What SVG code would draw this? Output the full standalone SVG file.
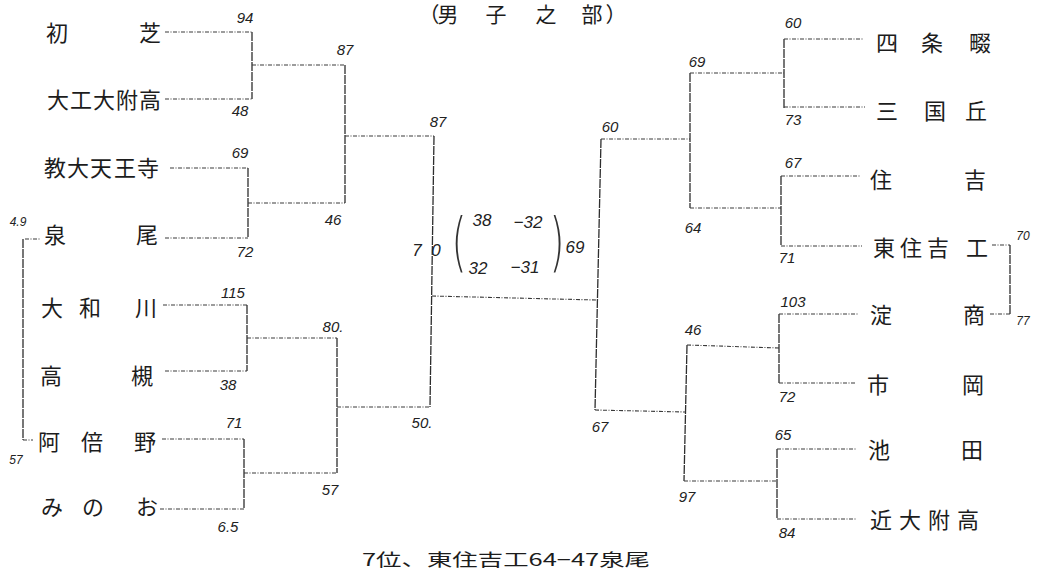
<svg xmlns="http://www.w3.org/2000/svg" width="1037" height="574" viewBox="0 0 1037 574">
<style>
.bg{fill:#ffffff}
.h{stroke:#3a3a3a;stroke-width:1.1;fill:none;stroke-dasharray:4 1.5 1 1.5}
.v{stroke:#2e2e2e;stroke-width:1.3;fill:none;stroke-dasharray:9 1}
.name{font-family:"Noto Sans CJK JP","Noto Sans CJK SC",sans-serif;font-size:22px;fill:#1c1c1c;text-anchor:middle}
.num{font-family:"Liberation Sans",Arial,sans-serif;font-style:italic;font-size:15px;fill:#222;text-anchor:middle}
.sm{font-size:12px}
.big{font-size:17px}
.par{font-family:"DejaVu Sans","Liberation Sans",sans-serif;font-weight:200;font-size:64px;fill:#333;text-anchor:middle}
.ttl{font-family:"Noto Sans CJK JP","Noto Sans CJK SC",sans-serif;font-size:21px;fill:#1c1c1c;text-anchor:middle}
.foot{font-family:"Noto Sans CJK JP","Noto Sans CJK SC",sans-serif;font-size:17px;fill:#1c1c1c}
</style>
<rect class="bg" x="0" y="0" width="1037" height="574"/>
<g id="title"><text class="ttl" x="429 448 496 546 592 616" y="22">（男子之部）</text></g>

<g id="connectors">
  <!-- left round 1 -->
  <path class="h" d="M165 32H252M165 99H252M170 168H248M165 238H248M163 305H247M165 371H247M162 439H244M160 509H244"/>
  <path class="v" d="M252 32V99M248 168V238M247 305V371M244 439V509"/>
  <!-- left round 2 -->
  <path class="h" d="M252 65H345M248 203H345M247 338H337M244 473H337"/>
  <path class="v" d="M345 65V203M337 338V473"/>
  <!-- left semifinal -->
  <path class="h" d="M345 136H434M337 407H430"/>
  <path class="v" d="M434 136L430 407"/>
  <!-- final -->
  <path class="h" d="M432 296L596 300"/>
  <!-- right semifinal -->
  <path class="v" d="M601 139L595 410"/>
  <path class="h" d="M601 139H690M595 410L685 412"/>
  <!-- right round 2 -->
  <path class="v" d="M690 73V208M687 345L684 481"/>
  <path class="h" d="M690 73H784M690 208H781M687 345L779 348M684 481H777"/>
  <!-- right round 1 -->
  <path class="v" d="M784 39V108M781 176V246M779 314V383M777 449V519"/>
  <path class="h" d="M784 39H863M784 107H865M781 176H860M781 246H862M779 314H858M779 383H855M777 449H856M777 519H856"/>
  <!-- consolation brackets -->
  <path class="h" d="M992 245H1010M990 314H1010M25 239H41M23 440H33"/>
  <path class="v" d="M1010 245V314M23 239V440"/>
</g>

<g id="scores">
  <text class="num" x="245" y="23">94</text>
  <text class="num" x="240" y="116">48</text>
  <text class="num" x="240" y="158">69</text>
  <text class="num" x="245" y="257">72</text>
  <text class="num" x="233" y="298">115</text>
  <text class="num" x="228" y="390">38</text>
  <text class="num" x="234" y="428">71</text>
  <text class="num" x="228" y="532">6.5</text>
  <text class="num" x="345" y="55">87</text>
  <text class="num" x="333" y="225">46</text>
  <text class="num" x="333" y="332">80.</text>
  <text class="num" x="330" y="495">57</text>
  <text class="num" x="438" y="127">87</text>
  <text class="num" x="422" y="428">50.</text>
  <text class="num sm" x="18" y="226">4.9</text>
  <text class="num sm" x="16" y="464">57</text>
  <text class="num big" x="417 436" y="256">70</text>
  <text class="num big" x="482" y="226">38</text>
  <text class="num big" x="528" y="228">−32</text>
  <text class="num big" x="478" y="274">32</text>
  <text class="num big" x="525" y="273">−31</text>
  <text class="num big" x="575" y="253">69</text>
  <text class="num" x="793" y="28">60</text>
  <text class="num" x="793" y="125">73</text>
  <text class="num" x="697" y="67">69</text>
  <text class="num" x="610" y="132">60</text>
  <text class="num" x="693" y="233">64</text>
  <text class="num" x="793" y="168">67</text>
  <text class="num" x="787" y="263">71</text>
  <text class="num sm" x="1023" y="240">70</text>
  <text class="num sm" x="1023" y="325">77</text>
  <text class="num" x="793" y="307">103</text>
  <text class="num" x="787" y="402">72</text>
  <text class="num" x="693" y="335">46</text>
  <text class="num" x="600" y="432">67</text>
  <text class="num" x="687" y="502">97</text>
  <text class="num" x="783" y="440">65</text>
  <text class="num" x="787" y="538">84</text>
  <text class="par" x="459" y="264" transform="translate(459 241) scale(0.6 1) translate(-459 -241)">(</text>
  <text class="par" x="557" y="264" transform="translate(557 241) scale(0.6 1) translate(-557 -241)">)</text>
</g>

<g id="team-hatsushiba"><text class="name" x="57 150" y="41">初芝</text></g>
<g id="team-daikodaifuko"><text class="name" x="58 81 104 127 150" y="108">大工大附高</text></g>
<g id="team-kyodaitennoji"><text class="name" x="55 78 101 125 148" y="176">教大天王寺</text></g>
<g id="team-izumio"><text class="name" x="55 147" y="243">泉尾</text></g>
<g id="team-yamatogawa"><text class="name" x="52 90 146" y="316">大和川</text></g>
<g id="team-takatsuki"><text class="name" x="51 142" y="384">高槻</text></g>
<g id="team-abeno"><text class="name" x="49 92 145" y="450">阿倍野</text></g>
<g id="team-minoo"><text class="name" x="52 93 147" y="515">みのお</text></g>

<g id="team-shijonawate"><text class="name" x="887 932 980" y="51">四条畷</text></g>
<g id="team-mikunigaoka"><text class="name" x="887 935 976" y="119">三国丘</text></g>
<g id="team-sumiyoshi"><text class="name" x="881 975" y="188">住吉</text></g>
<g id="team-higashisumiyoshiko"><text class="name" x="884 911 938 977" y="256">東住吉工</text></g>
<g id="team-yodosho"><text class="name" x="881 974" y="323">淀商</text></g>
<g id="team-ichioka"><text class="name" x="878 973" y="393">市岡</text></g>
<g id="team-ikeda"><text class="name" x="879 972" y="458">池田</text></g>
<g id="team-kindaifuko"><text class="name" x="881 910 939 968" y="528">近大附高</text></g>

<g id="footer"><text class="foot" x="362" y="566" textLength="288" lengthAdjust="spacingAndGlyphs">7位、東住吉工64−47泉尾</text></g>
</svg>
